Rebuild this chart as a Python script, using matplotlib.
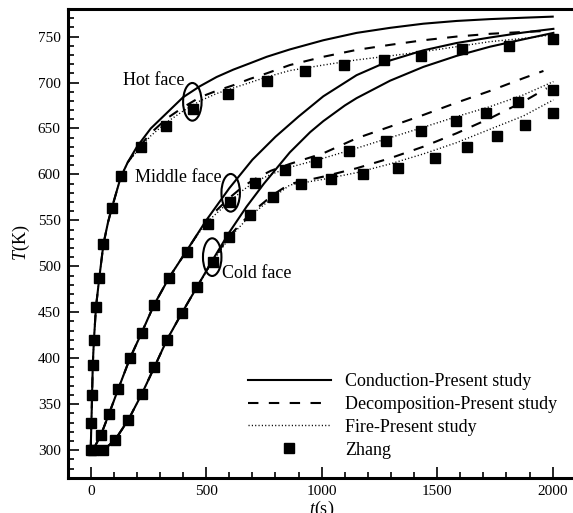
import matplotlib
matplotlib.use("Agg")
import matplotlib.pyplot as plt
from matplotlib.patches import Ellipse
from matplotlib.ticker import MultipleLocator

plt.rcParams['font.family'] = 'Liberation Serif'
plt.rcParams['mathtext.fontset'] = 'custom'
plt.rcParams['mathtext.rm'] = 'Liberation Serif'
plt.rcParams['mathtext.it'] = 'Liberation Serif:italic'

# --- Hot face ---
hot_cond_t = [0, 3, 6, 9, 14, 23, 37, 55, 75, 91, 130, 160, 200, 260, 330, 400, 473, 545, 617, 690,
              762, 862, 1007, 1151, 1296, 1440, 1584, 1729, 1873, 2000]
hot_cond_T = [300, 330, 360, 393, 420, 456, 487, 524, 548, 563, 597, 613, 630, 650, 667, 684, 696, 706,
              714, 721, 728, 736, 746, 754, 759.5, 764, 767, 769, 770.5, 771.7]
hot_start_t = [0, 3, 6, 9, 14, 23, 37, 55, 75, 91, 130, 160]
hot_start_T = [300, 330, 360, 393, 420, 456, 487, 524, 548, 563, 597, 613]
hot_dec_t = [200, 260, 330, 400, 473, 545, 617, 690, 762, 862, 1007, 1151, 1296, 1440, 1584, 1729, 1873, 1960]
hot_dec_T = [627, 645, 661, 673, 684, 691, 697, 704, 710, 719, 728, 735.5, 741, 746, 750, 753, 755, 756]
hot_fire_t = [200, 260, 330, 400, 473, 545, 617, 690, 762, 862, 1007, 1151, 1296, 1440, 1584, 1729, 1873, 2000]
hot_fire_T = [625, 642, 657, 669, 680, 688, 694, 700, 706, 713, 719, 724.6, 729, 733.6, 739, 744.5, 748, 752]
hot_zh_t = [0, 3, 6, 9, 14, 23, 37, 55, 91, 130, 219, 326, 441, 596, 762, 928, 1098, 1270, 1430, 1607, 1811, 2003]
hot_zh_T = [300, 330, 360, 393, 420, 456, 487, 524, 563, 598, 630, 653, 671, 688, 702, 712, 719, 725, 729,
            736, 740, 747.5]

# --- Middle face ---
mid_cond_t = [10, 45, 80, 120, 170, 221, 274, 340, 418, 500, 600, 700, 800, 900, 1007, 1151, 1296, 1440,
              1584, 1729, 1873, 2003]
mid_cond_T = [300, 317, 340, 367, 400, 428, 458, 488, 518, 550, 585, 616, 641, 663, 685, 708, 724, 735,
              743, 749, 754.4, 758.4]
mid_start_t = [10, 45, 80, 120, 170, 221, 274, 340, 418]
mid_start_T = [300, 317, 340, 367, 400, 428, 458, 488, 518]
mid_dec_t = [470, 520, 603, 660, 711, 780, 862, 1007, 1151, 1296, 1440, 1584, 1729, 1873, 1960]
mid_dec_T = [538, 555, 575, 587, 595, 604, 611.4, 623, 639.3, 652, 664.7, 678.1, 690.9, 704.7, 712.6]
mid_fire_t = [470, 520, 603, 660, 711, 780, 862, 1007, 1151, 1296, 1440, 1584, 1729, 1873, 2003]
mid_fire_T = [537, 552, 571, 583, 592, 600, 607.8, 617.6, 628.5, 640, 651.3, 662.9, 673.8, 686.5, 701]
mid_zh_t = [10, 45, 79, 117, 170, 221, 274, 340, 418, 509, 603, 711, 841, 975, 1119, 1278, 1431, 1580,
            1710, 1850, 2003]
mid_zh_T = [300, 317, 339, 366, 400, 427, 458, 487, 516, 546, 570, 591, 605, 614, 625.5, 636.4, 647.3,
            657.8, 667, 678.5, 692]

# --- Cold face ---
cold_cond_t = [55, 105, 163, 221, 275, 330, 394, 459, 528, 600, 675, 750, 862, 950, 1007, 1100, 1151,
               1296, 1440, 1584, 1729, 1873, 2003]
cold_cond_T = [300, 311, 333, 361, 390, 420, 449, 477, 507, 537, 565, 590, 624, 646, 658, 675, 683,
               702, 717, 729, 739, 747, 754]
cold_start_t = [55, 105, 163, 221, 275, 330, 394, 459]
cold_start_T = [300, 311, 333, 361, 390, 420, 449, 477]
cold_dec_t = [528, 600, 690, 790, 862, 1007, 1151, 1296, 1440, 1584, 1729, 1873, 1974]
cold_dec_T = [507, 533, 557, 578, 589.6, 597.6, 606.7, 617.6, 630.2, 644.8, 661.1, 679.2, 693.8]
cold_fire_t = [528, 600, 690, 790, 862, 1007, 1151, 1296, 1440, 1584, 1729, 1873, 2003]
cold_fire_T = [505, 531, 555, 575, 588.5, 594.7, 601.9, 611.4, 622.3, 634.6, 649.2, 663.6, 681.1]
cold_zh_t = [55, 105, 163, 221, 275, 330, 394, 459, 528, 600, 690, 790, 909, 1040, 1180, 1332, 1490,
             1630, 1760, 1880, 2003]
cold_zh_T = [300, 311, 333, 361, 390, 420, 449, 477, 505, 531.6, 555.8, 575.8, 589.5, 595, 601, 606.7,
             617.5, 629.6, 641.9, 653.8, 666.6]

# annotations: label, text position, ellipse centre
faces = ["Hot face", "Middle face", "Cold face"]
face_text_xy = [(138, 702), (192, 597), (567, 492)]
face_ell_xy = [(440, 679), (606, 580), (526, 510)]

fig = plt.figure(figsize=(5.73, 5.13), dpi=100)
ax = fig.add_axes([67.6 / 573, 35.3 / 513, 508.2 / 573, 468.7 / 513])

lw = 1.5
dash = (0, (5, 5))
dot = (0, (0.8, 1.6))

for ct, cT, st, sT, dt, dT, ft, fT in [
        (hot_cond_t, hot_cond_T, hot_start_t, hot_start_T, hot_dec_t, hot_dec_T, hot_fire_t, hot_fire_T),
        (mid_cond_t, mid_cond_T, mid_start_t, mid_start_T, mid_dec_t, mid_dec_T, mid_fire_t, mid_fire_T),
        (cold_cond_t, cold_cond_T, cold_start_t, cold_start_T, cold_dec_t, cold_dec_T, cold_fire_t, cold_fire_T)]:
    ax.plot(ct, cT, color='black', lw=lw)
    ax.plot(st + dt, sT + dT, color='black', lw=lw, linestyle=dash)
    ax.plot(st + ft, sT + fT, color='black', lw=1.0, linestyle=dot)

ax.plot([], [], color='black', lw=lw, label='Conduction-Present study')
ax.plot([], [], color='black', lw=lw, linestyle=dash, label='Decomposition-Present study')
ax.plot([], [], color='black', lw=1.0, linestyle=dot, label='Fire-Present study')

zh_t = hot_zh_t + mid_zh_t + cold_zh_t
zh_T = hot_zh_T + mid_zh_T + cold_zh_T
ax.plot(zh_t, zh_T, linestyle='none', marker='s', color='black', markersize=7.5, label='Zhang')

for name, (tx, ty), (ex, ey) in zip(faces, face_text_xy, face_ell_xy):
    ax.text(tx, ty, name, fontsize=13, ha='left', va='center')
    ax.add_patch(Ellipse((ex, ey), 80, 41, fill=False, edgecolor='black', lw=1.5))

ax.set_xlim(-100, 2100)
ax.set_ylim(270, 780)
ax.xaxis.set_major_locator(MultipleLocator(500))
ax.xaxis.set_minor_locator(MultipleLocator(100))
ax.yaxis.set_major_locator(MultipleLocator(50))
ax.yaxis.set_minor_locator(MultipleLocator(10))
ax.tick_params(which='both', direction='in', top=False, right=False, labelsize=11, width=1.2)
ax.tick_params(which='major', length=8, pad=5)
ax.tick_params(which='minor', length=4)
for s in ax.spines.values():
    s.set_linewidth(2.2)
ax.spines['right'].set_visible(False)

ax.set_xlabel('$t$(s)', fontsize=13, labelpad=1)
ax.set_ylabel('$T$(K)', fontsize=13, labelpad=4)

ax.legend(loc='lower left', bbox_to_anchor=(0.337, 0.0215), frameon=False, fontsize=13,
          handlelength=4.6, handletextpad=0.8, labelspacing=0.32, numpoints=1, borderpad=0)

plt.savefig('out.png', dpi=100)
